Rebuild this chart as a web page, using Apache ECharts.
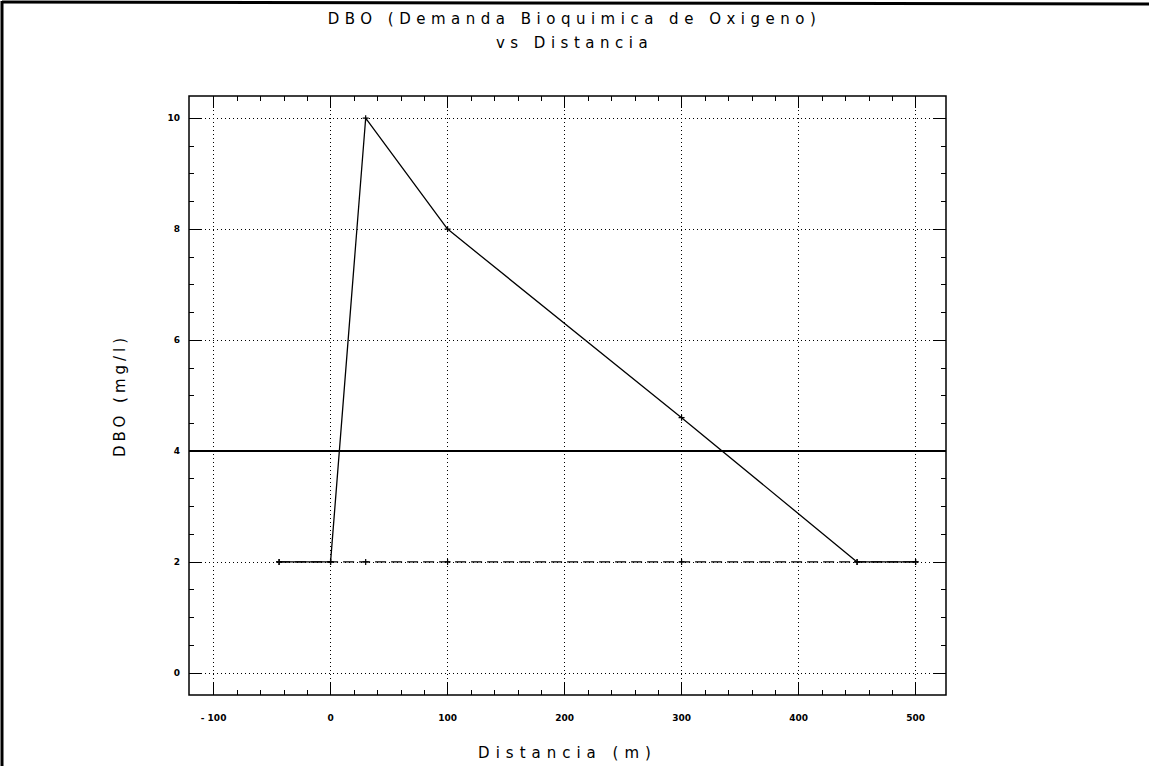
<!DOCTYPE html>
<html>
<head>
<meta charset="utf-8">
<script src="https://cdn.jsdelivr.net/npm/echarts@6/dist/echarts.min.js"></script>
<style>
html,body{margin:0;padding:0;background:#fff;}
#chart{width:1149px;height:766px;}
</style>
</head>
<body>
<div id="chart"></div>
<script>
// ---- data ----
const distancia = [-44, 0, 30, 100, 300, 450, 500];
const dbo = [2, 2, 10, 8, 4.6, 2, 2];
const dboBase = [2, 2, 2, 2, 2, 2, 2];
const limite = 4;
const xMajor = [-100, 0, 100, 200, 300, 400, 500];
const xMinor = [-80, -60, -40, -20, 20, 40, 60, 80, 120, 140, 160, 180, 220, 240, 260, 280, 320, 340, 360, 380, 420, 440, 460, 480];
const yMajor = [0, 2, 4, 6, 8, 10];
const yMinor = [0.5, 1, 1.5, 2.5, 3, 3.5, 4.5, 5, 5.5, 6.5, 7, 7.5, 8.5, 9, 9.5];
const titulo = 'DBO (Demanda Bioquimica de Oxigeno)';
const subtitulo = 'vs Distancia';
const nombreX = 'Distancia (m)';
const nombreY = 'DBO (mg/l)';

const spacing = {};
spacing[titulo] = 5.5;
spacing[subtitulo] = 5.5;
spacing[nombreX] = 6;
spacing[nombreY] = 4;

const FONT = 'DejaVu Sans';
const X_MIN = -121, X_MAX = 526, Y_MIN = -0.4, Y_MAX = 10.4;

const plus = 'path://M2,0 H3 V2 H5 V3 H3 V5 H2 V3 H0 V2 H2 Z';

function xAx(pos, ticks, len, labels) {
  return {
    type: 'value', position: pos, min: X_MIN, max: X_MAX,
    axisLine: {show: false, onZero: false},
    axisTick: {show: true, inside: true, length: len, customValues: ticks, lineStyle: {color: '#000', width: 1}},
    axisLabel: labels ? {show: true, customValues: xMajor, color: '#000', fontFamily: FONT, fontSize: 9, fontWeight: 'bold', margin: 18,
      formatter: v => (v < 0 ? '- ' + Math.abs(v) : String(v))} : {show: false},
    splitLine: {show: false},
    name: labels ? nombreX : '', nameLocation: 'middle', nameGap: 50,
    nameTextStyle: {fontFamily: FONT, fontSize: 15, color: '#000'}
  };
}
function yAx(pos, ticks, len, labels) {
  return {
    type: 'value', position: pos, min: Y_MIN, max: Y_MAX,
    axisLine: {show: false, onZero: false},
    axisTick: {show: true, inside: true, length: len, customValues: ticks, lineStyle: {color: '#000', width: 1}},
    axisLabel: labels ? {show: true, customValues: yMajor, color: '#000', fontFamily: FONT, fontSize: 9, fontWeight: 'bold', margin: 9} : {show: false},
    splitLine: {show: false},
    name: labels ? nombreY : '', nameLocation: 'middle', nameGap: 62,
    nameTextStyle: {fontFamily: FONT, fontSize: 15, color: '#000'}
  };
}

const chart = echarts.init(document.getElementById('chart'), null, {renderer: 'svg'});
chart.setOption({
  animation: false,
  backgroundColor: '#fff',
  title: [
    {text: titulo, left: 'center', top: 6, textStyle: {fontFamily: FONT, fontSize: 15, fontWeight: 'normal', color: '#000'}},
    {text: subtitulo, left: 'center', top: 30, textStyle: {fontFamily: FONT, fontSize: 15, fontWeight: 'normal', color: '#000'}}
  ],
  grid: {left: 189, right: 203, top: 96, bottom: 71, show: true, borderColor: '#000', borderWidth: 1.5, backgroundColor: 'transparent'},
  xAxis: [
    xAx('bottom', xMinor, 5, true),
    xAx('bottom', xMajor, 12, false),
    xAx('top', xMinor, 5, false),
    xAx('top', xMajor, 12, false)
  ],
  yAxis: [
    yAx('left', yMinor, 5, true),
    yAx('left', yMajor, 12, false),
    yAx('right', yMinor, 5, false),
    yAx('right', yMajor, 12, false)
  ],
  graphic: [
    {type: 'line', shape: {x1: 2, y1: 2, x2: 1149, y2: 4}, style: {stroke: '#000', lineWidth: 3}, z: 100},
    {type: 'line', shape: {x1: 2, y1: 1, x2: 2, y2: 766}, style: {stroke: '#000', lineWidth: 3}, z: 100}
  ],
  series: [
    {
      type: 'line', name: 'base', xAxisIndex: 0, yAxisIndex: 0,
      data: distancia.map((x, i) => [x, dboBase[i]]),
      symbol: plus, symbolSize: 6, itemStyle: {color: '#000'},
      lineStyle: {color: '#000', width: 1.3, type: [11, 5]},
      markLine: {
        silent: true, symbol: 'none', label: {show: false},
        lineStyle: {color: '#000', width: 1, type: [1, 3]},
        data: xMajor.map(v => ({xAxis: v})).concat(yMajor.map(v => ({yAxis: v})))
      },
      z: 2
    },
    {
      type: 'line', name: 'DBO', xAxisIndex: 0, yAxisIndex: 0,
      data: distancia.map((x, i) => [x, dbo[i]]),
      symbol: plus, symbolSize: 6, itemStyle: {color: '#000'},
      lineStyle: {color: '#000', width: 1.3},
      markLine: {
        silent: true, symbol: 'none', label: {show: false},
        lineStyle: {color: '#000', width: 1.8, type: 'solid'},
        data: [{yAxis: limite}]
      },
      z: 3
    }
  ]
});

function applySpacing() {
  document.querySelectorAll('#chart svg text').forEach(t => {
    const s = spacing[t.textContent];
    if (s != null && t.style.letterSpacing !== s + 'px') t.style.letterSpacing = s + 'px';
  });
}
applySpacing();
chart.on('finished', applySpacing);
new MutationObserver(applySpacing).observe(document.getElementById('chart'), {childList: true, subtree: true});
setTimeout(applySpacing, 0);
setTimeout(applySpacing, 200);
</script>
</body>
</html>
